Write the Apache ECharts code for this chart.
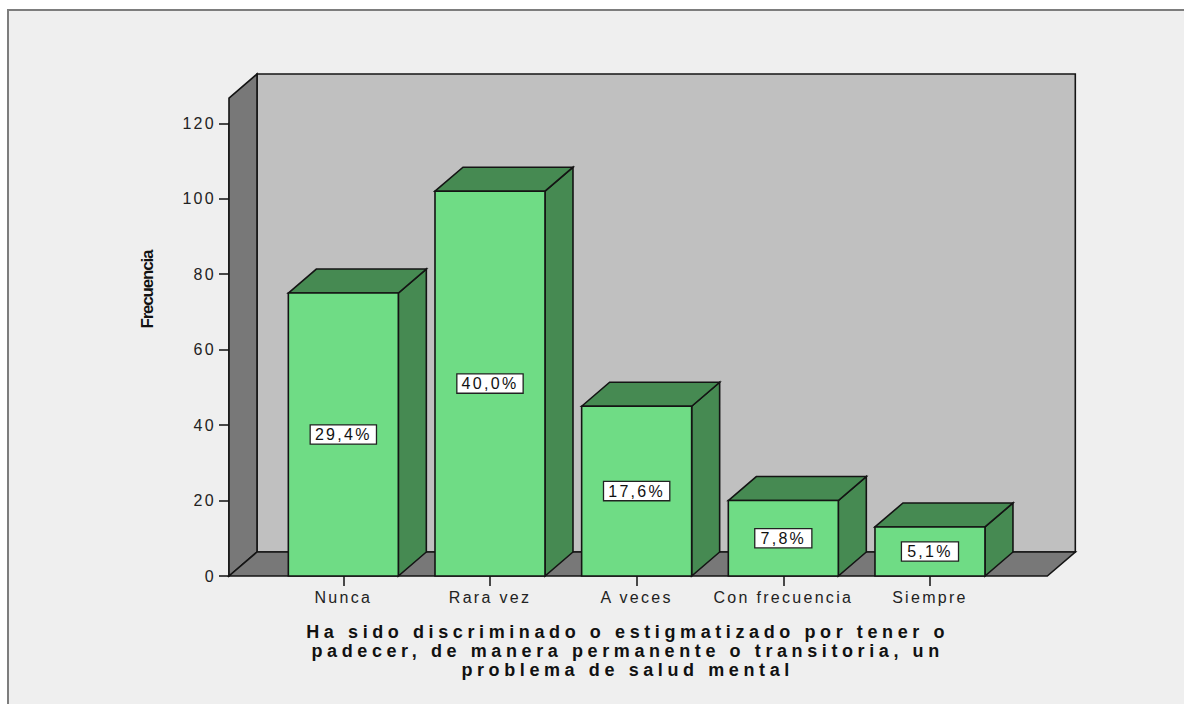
<!DOCTYPE html>
<html>
<head>
<meta charset="utf-8">
<script src="https://cdn.jsdelivr.net/npm/echarts@6/dist/echarts.min.js"></script>
<style>
  html, body { margin: 0; padding: 0; background: #ffffff; }
  #chart { width: 1184px; height: 704px; }
  /* SPSS output is letter-spaced; svg text picks this up */
  #chart text { letter-spacing: 2.3px; }
  #chart text[style*="Arial"] { letter-spacing: 4.6px; }
  #chart text[style*="Narrow"] { letter-spacing: -1.2px; }
</style>
</head>
<body>
<div id="chart"></div>
<script>
const categories = ["Nunca", "Rara vez", "A veces", "Con frecuencia", "Siempre"];
const frequencies = [75, 102, 45, 20, 13];
const yMin = 0;
const yMax = 120;
const yInterval = 20;
const wallTop = 126.7;

const xTitle =
  "Ha sido discriminado o estigmatizado por tener o\n" +
  "padecer, de manera permanente o transitoria, un\n" +
  "problema de salud mental";

// 3d depth offset in px
const DX = 28;
const DY = -24;
const total = frequencies.reduce((a, b) => a + b, 0);
const edge = { stroke: "#141414", lineWidth: 1.6 };

function renderWalls(params, api) {
  const band = api.size([1, 0])[0];
  const o = api.coord([0, 0]);
  const e = api.coord([categories.length - 1, 0]);
  const x0 = o[0] - band / 2 - 41;
  const x1 = e[0] + band / 2 + 44;
  const y0 = o[1];
  const y1 = api.coord([0, wallTop])[1];
  return {
    type: "group",
    children: [
      {
        type: "polygon",
        shape: { points: [[x0 + DX, y1 + DY], [x1 + DX, y1 + DY], [x1 + DX, y0 + DY], [x0 + DX, y0 + DY]] },
        style: Object.assign({ fill: "#c0c0c0" }, edge),
      },
      {
        type: "polygon",
        shape: { points: [[x0, y1], [x0 + DX, y1 + DY], [x0 + DX, y0 + DY], [x0, y0]] },
        style: Object.assign({ fill: "#787878" }, edge),
      },
      {
        type: "polygon",
        shape: { points: [[x0, y0], [x0 + DX, y0 + DY], [x1 + DX, y0 + DY], [x1, y0]] },
        style: Object.assign({ fill: "#787878" }, edge),
      },
    ],
  };
}

function renderBar(params, api) {
  const i = api.value(0);
  const v = api.value(1);
  const b = api.coord([i, 0]);
  const t = api.coord([i, v]);
  const w = api.size([1, 0])[0] * 0.75;
  const l = b[0] - w / 2;
  const r = b[0] + w / 2;
  const top = t[1];
  const bot = b[1];
  const pct = ((v / total) * 100).toFixed(1).replace(".", ",") + "%";
  return {
    type: "group",
    children: [
      {
        type: "polygon",
        shape: { points: [[r, top], [r + DX, top + DY], [r + DX, bot + DY], [r, bot]] },
        style: Object.assign({ fill: "#468a52" }, edge),
      },
      {
        type: "polygon",
        shape: { points: [[l, top], [l + DX, top + DY], [r + DX, top + DY], [r, top]] },
        style: Object.assign({ fill: "#468a52" }, edge),
      },
      {
        type: "rect",
        shape: { x: l, y: top, width: w, height: bot - top },
        style: Object.assign({ fill: "#6fdc85" }, edge),
      },
      {
        type: "text",
        x: b[0],
        y: (top + bot) / 2,
        style: {
          text: pct,
          fill: "#111",
          fontSize: 16,
          fontFamily: "Liberation Sans",
          align: "center",
          verticalAlign: "middle",
          width: 9.2 * pct.length + 11,
          backgroundColor: "#ffffff",
          borderColor: "#222",
          borderWidth: 1.3,
          padding: [1, 4],
        },
      },
    ],
  };
}

const chart = echarts.init(document.getElementById("chart"), null, { renderer: "svg" });

chart.setOption({
  animation: false,
  graphic: [
    {
      type: "rect",
      z: -10,
      silent: true,
      shape: { x: 8, y: 10, width: 1300, height: 800 },
      style: { fill: "#efefef", stroke: "#7d7d7d", lineWidth: 2 },
    },
  ],
  grid: { left: 270, right: 180.7, top: 123.3, bottom: 128 },
  xAxis: {
    type: "category",
    data: categories,
    axisLine: { show: false },
    axisTick: { show: true, alignWithLabel: true, length: 10, lineStyle: { color: "#111", width: 1.5 } },
    axisLabel: { interval: 0, margin: 13, fontSize: 16, fontFamily: "Liberation Sans", color: "#222" },
    splitLine: { show: false },
    name: xTitle,
    nameLocation: "middle",
    nameGap: 46,
    nameTextStyle: {
      fontFamily: "Arial, 'Liberation Sans'",
      fontWeight: "bold",
      fontSize: 18,
      lineHeight: 19,
      color: "#111",
      align: "center",
      padding: [0, 18, 0, 0],
    },
  },
  yAxis: {
    type: "value",
    min: yMin,
    max: yMax,
    interval: yInterval,
    offset: 41,
    axisLine: { show: true, lineStyle: { color: "#111", width: 1.6 } },
    axisTick: { show: true, length: 10, lineStyle: { color: "#111", width: 1.5 } },
    axisLabel: { margin: 13, fontSize: 16, fontFamily: "Liberation Sans", color: "#222" },
    splitLine: { show: false },
    name: "Frecuencia",
    nameLocation: "middle",
    nameRotate: 90,
    nameGap: 73,
    nameTextStyle: {
      fontFamily: "'Liberation Sans Narrow', 'Liberation Sans'",
      fontWeight: "bold",
      fontSize: 17,
      color: "#111",
      padding: [0, 0, 0, 120],
    },
  },
  series: [
    {
      type: "custom",
      z: 1,
      silent: true,
      renderItem: renderWalls,
      data: [[0, 0]],
    },
    {
      type: "custom",
      z: 2,
      renderItem: renderBar,
      encode: { x: 0, y: 1 },
      data: frequencies.map((v, i) => [i, v]),
    },
  ],
});
</script>
</body>
</html>
